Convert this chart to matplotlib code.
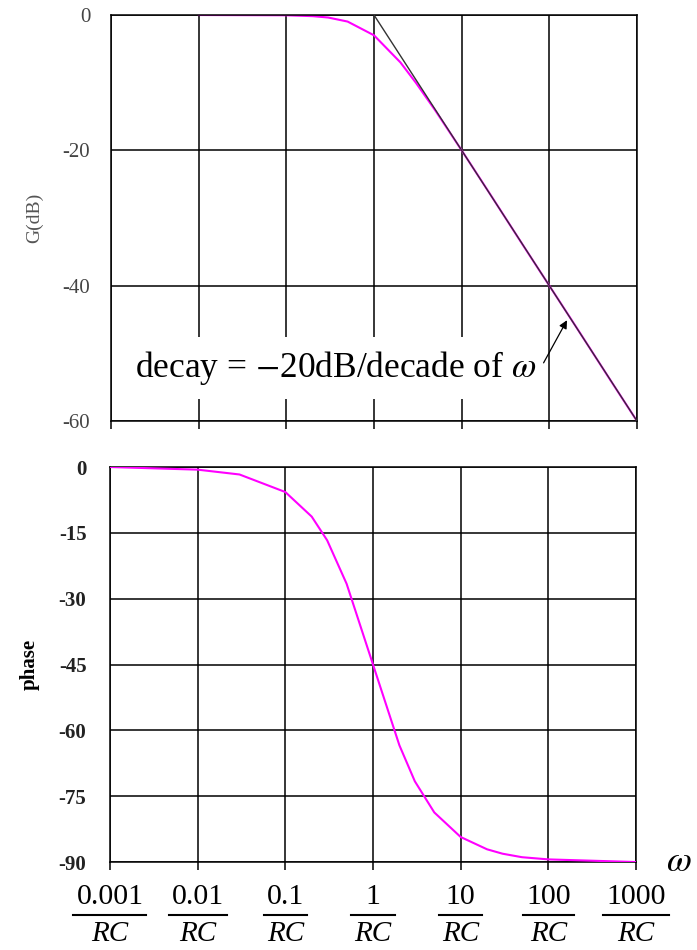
import matplotlib
matplotlib.use("Agg")
import matplotlib.pyplot as plt
import matplotlib.ticker as mticker
from matplotlib.lines import Line2D
from matplotlib.transforms import IdentityTransform

plt.rcParams['mathtext.fontset'] = 'stix'
plt.rcParams['font.family'] = ['Liberation Serif', 'DejaVu Serif']

# frequency points (in units of 1/RC)
w_gain = [0.01, 0.1, 0.2, 0.3, 0.5, 1, 2, 3, 5, 10, 20, 50, 100, 200, 500, 1000]
gain_db = [0, -0.04, -0.17, -0.37, -0.97, -3.0, -7.0, -10.0, -14.1, -20.0,
           -26.0, -34.0, -40.0, -46.0, -54.0, -60.0]

# straight-line asymptote
w_asym = [1, 1000]
gain_asym = [0, -60]

w_phase = [0.001, 0.01, 0.03, 0.1, 0.2, 0.3, 0.5, 1, 2, 3, 5, 10, 20, 30, 50, 100, 1000]
phase = [0, -0.6, -1.7, -5.7, -11.3, -16.7, -26.6, -45, -63.4, -71.6, -78.7,
         -84.3, -87.1, -88.1, -88.9, -89.4, -90]

decades = [0.001, 0.01, 0.1, 1, 10, 100, 1000]
dec_labels = ['0.001', '0.01', '0.1', '1', '10', '100', '1000']

fig = plt.figure(figsize=(6.97, 9.5), dpi=100)
ax1 = fig.add_axes([0.1593, 0.5568, 0.7546, 0.4274])
ax2 = fig.add_axes([0.1578, 0.0926, 0.7547, 0.4158])

for ax in (ax1, ax2):
    ax.set_xscale('log')
    ax.set_xlim(0.001, 1000)
    ax.xaxis.set_major_locator(mticker.FixedLocator(decades))
    ax.xaxis.set_minor_locator(mticker.NullLocator())
    ax.grid(True, color='black', linewidth=1.1)
    ax.set_axisbelow(True)
    for s in ax.spines.values():
        s.set_linewidth(1.1)
    ax.tick_params(axis='x', direction='out', length=6, width=1.1, labelbottom=False)

# gain plot
ax1.plot(w_asym, gain_asym, color='#333333', linewidth=1.0, zorder=3)
ax1.plot(w_gain, gain_db, color='#ff00ff', linewidth=1.5, zorder=2)
ax1.set_ylim(-60, 0)
ax1.set_yticks([0, -20, -40, -60])
ax1.set_yticklabels(['0', '-20', '-40', '-60'], fontsize=15, color='#444444')
ax1.tick_params(axis='y', length=0, pad=15)
ax1.set_ylabel('G(dB)', fontsize=14, color='#555555', labelpad=14)

ax1.text(0.00188, -53.5, r'decay = $-$20dB/decade of $\omega$', fontsize=25.5,
         ha='left', va='baseline', zorder=5,
         bbox=dict(boxstyle='square,pad=0.33', fc='white', ec='none'))
ax1.annotate('', xy=(159, -45.1), xytext=(86, -51.4),
             arrowprops=dict(arrowstyle='-|>', color='black', lw=0.9,
                             mutation_scale=12, shrinkA=0, shrinkB=0),
             zorder=6)

# phase plot
ax2.plot(w_phase, phase, color='#ff00ff', linewidth=1.5, zorder=3)
ax2.set_ylim(-90, 0)
ax2.set_yticks([0, -15, -30, -45, -60, -75, -90])
ax2.set_yticklabels(['0', '-15', '-30', '-45', '-60', '-75', '-90'],
                    fontsize=15, fontweight='bold', color='#222222')
ax2.tick_params(axis='y', length=0, pad=17)
ax2.set_ylabel('phase', fontsize=15, fontweight='bold', labelpad=14)

# fraction tick labels under the phase plot: number / RC
pairs = []
for d, lab in zip(decades, dec_labels):
    top = ax2.annotate(lab, xy=(d, 0), xycoords=('data', 'axes fraction'),
                       xytext=(0, -30.5), textcoords='offset points',
                       ha='center', va='baseline', fontsize=21.5)
    bot = ax2.annotate('RC', xy=(d, 0), xycoords=('data', 'axes fraction'),
                       xytext=(0, -57.2), textcoords='offset points',
                       ha='center', va='baseline', fontsize=21, fontstyle='italic')
    pairs.append((top, bot))

renderer = fig.canvas.get_renderer()
ybar = ax2.transAxes.transform((0, 0))[1] - 53
for top, bot in pairs:
    b1 = top.get_window_extent(renderer)
    b2 = bot.get_window_extent(renderer)
    x0 = min(b1.x0, b2.x0) - 3
    x1 = max(b1.x1, b2.x1) + 3
    fig.add_artist(Line2D([x0, x1], [ybar, ybar], color='black',
                          linewidth=1.5, transform=IdentityTransform()))

ax2.annotate(r'$\omega$', xy=(1, 0), xycoords='axes fraction', xytext=(31, 0),
             textcoords='offset points', ha='center', va='center', fontsize=26)

fig.savefig('out.png', dpi=100)
